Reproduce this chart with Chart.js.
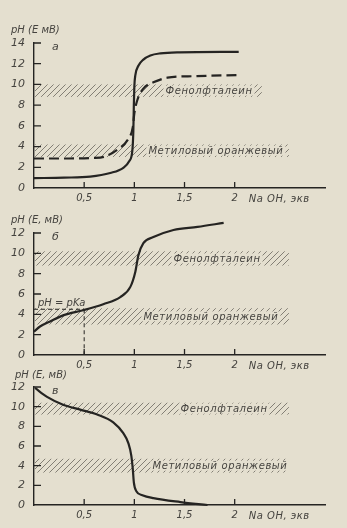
<!DOCTYPE html>
<html>
<head>
<meta charset="utf-8">
<script src="https://cdn.jsdelivr.net/npm/chart.js@4.4.0/dist/chart.umd.min.js"></script>
<style>
  html, body { margin: 0; padding: 0; background: #e4dfcf; }
  body { width: 347px; height: 528px; position: relative; overflow: hidden; }
  canvas { position: absolute; left: 0; }
</style>
</head>
<body>
<canvas id="chartA" width="347" height="215" style="top:0px"></canvas>
<canvas id="chartB" width="347" height="175" style="top:200px"></canvas>
<canvas id="chartC" width="347" height="168" style="top:360px"></canvas>
<script>
// ось X (экв NaOH)
const xTicks = [0.5, 1, 1.5, 2];
const xTickLabels = ["0,5", "1", "1,5", "2"];
const yTicksA = [0, 2, 4, 6, 8, 10, 12, 14];
const yTicksBC = [0, 2, 4, 6, 8, 10, 12];

// а: сильная кислота (сплошная) и пунктир
const aSolidX = [0, 0.3, 0.56, 0.76, 0.89, 0.95, 0.98, 0.99, 0.995, 1.0, 1.01, 1.04, 1.09, 1.16, 1.26, 1.45, 2.04];
const aSolidY = [0.95, 1.0, 1.1, 1.45, 1.95, 2.6, 3.6, 5.5, 8.0, 9.8, 10.9, 11.8, 12.4, 12.8, 13.0, 13.1, 13.15];
const aDashX = [0, 0.3, 0.6, 0.71, 0.83, 0.93, 0.985, 1.0, 1.03, 1.09, 1.19, 1.33, 1.6, 2.03];
const aDashY = [2.85, 2.85, 2.9, 3.05, 3.7, 4.6, 5.9, 7.2, 8.5, 9.6, 10.2, 10.65, 10.8, 10.9];

// б: слабая кислота
const bX = [0, 0.06, 0.16, 0.29, 0.49, 0.69, 0.86, 0.96, 1.01, 1.04, 1.09, 1.19, 1.39, 1.63, 1.89];
const bY = [2.3, 2.8, 3.3, 3.9, 4.4, 5.0, 5.7, 6.7, 8.2, 9.8, 11.0, 11.6, 12.3, 12.6, 13.0];
const pKaX = 0.5;
const pKaY = 4.5;

// в
const cX = [0.01, 0.13, 0.29, 0.46, 0.63, 0.79, 0.89, 0.94, 0.97, 0.985, 0.995, 1.02, 1.08, 1.19, 1.46, 1.73];
const cY = [11.9, 11.0, 10.2, 9.7, 9.2, 8.4, 7.3, 6.3, 5.0, 3.6, 2.3, 1.4, 1.0, 0.7, 0.3, 0.0];

// зоны перехода индикаторов [от, до]
const phenolA = [8.8, 10.0], methylA = [3.0, 4.2];
const phenolB = [8.8, 10.2], methylB = [3.0, 4.6];
const phenolC = [9.2, 10.4], methylC = [3.3, 4.7];
const phenolName = "Фенолфталеин";
const methylName = "Метиловый оранжевый";

const ink = "#252422";
const textCol = "#45433f";
const bg = "#e4dfcf";
const font = "italic 10px 'DejaVu Sans', sans-serif";

function hatch() {
  const c = document.createElement("canvas");
  c.width = 6; c.height = 6;
  const g = c.getContext("2d");
  g.strokeStyle = "rgba(90,86,78,0.7)";
  g.lineWidth = 1;
  g.beginPath();
  g.moveTo(-1, 7); g.lineTo(7, -1);
  g.moveTo(-1, 1); g.lineTo(1, -1);
  g.moveTo(5, 7); g.lineTo(7, 5);
  g.stroke();
  return c;
}
const hatchCanvas = hatch();

function pts(xs, ys) {
  return xs.map((x, i) => ({ x: x, y: ys[i] }));
}

function makeChart(id, opt) {
  const deco = {
    id: "deco",
    beforeDatasetsDraw(chart) {
      const ctx = chart.ctx;
      const xs = chart.scales.x, ys = chart.scales.y;
      const pat = ctx.createPattern(hatchCanvas, "repeat");
      opt.bands.forEach((b) => {
        const x0 = xs.getPixelForValue(0);
        const x1 = xs.getPixelForValue(b.end);
        const y0 = ys.getPixelForValue(b.range[1]);
        const y1 = ys.getPixelForValue(b.range[0]);
        ctx.save();
        ctx.fillStyle = pat;
        ctx.fillRect(x0 + 1, y0, x1 - x0, y1 - y0);
        ctx.font = font;
        ctx.letterSpacing = "0.6px";
        const tx = xs.getPixelForValue(b.textAt);
        const ty = (y0 + y1) / 2;
        const w = ctx.measureText(b.name).width;
        ctx.fillStyle = bg;
        ctx.fillRect(tx - 2, ty - 5, w + 4, 10);
        ctx.fillStyle = textCol;
        ctx.textBaseline = "middle";
        ctx.fillText(b.name, tx, ty + 1);
        ctx.restore();
      });
      // pH = pKa
      if (opt.pKa) {
        const px = xs.getPixelForValue(pKaX);
        const py = ys.getPixelForValue(pKaY);
        ctx.save();
        ctx.strokeStyle = ink;
        ctx.lineWidth = 1;
        ctx.setLineDash([4, 3]);
        ctx.beginPath();
        ctx.moveTo(xs.left, py); ctx.lineTo(px, py);
        ctx.moveTo(px, py); ctx.lineTo(px, ys.bottom);
        ctx.stroke();
        ctx.setLineDash([]);
        ctx.font = font;
        ctx.fillStyle = bg;
        ctx.fillRect(xs.left + 2, py - 13, 46, 11);
        ctx.fillStyle = textCol;
        ctx.textBaseline = "alphabetic";
        ctx.fillText("pH = pKa", xs.left + 4, py - 3);
        ctx.restore();
      }
    },
    afterDraw(chart) {
      const ctx = chart.ctx;
      const xs = chart.scales.x, ys = chart.scales.y;
      ctx.save();
      ctx.strokeStyle = ink;
      ctx.lineWidth = 1.3;
      ctx.beginPath();
      opt.yTicks.forEach((v) => {
        if (v === 0) return;
        const y = ys.getPixelForValue(v);
        ctx.moveTo(xs.left, y); ctx.lineTo(xs.left + 7, y);
      });
      xTicks.forEach((v) => {
        const x = xs.getPixelForValue(v);
        ctx.moveTo(x, ys.bottom); ctx.lineTo(x, ys.bottom - 6);
      });
      ctx.stroke();
      ctx.font = font;
      ctx.fillStyle = textCol;
      ctx.textBaseline = "middle";
      ctx.fillText(opt.title, opt.titleX, ys.top - opt.titleDy);
      ctx.font = "italic 11px 'DejaVu Sans', sans-serif";
      ctx.fillText(opt.letter, xs.left + 18, ys.top + 4);
      ctx.font = font;
      ctx.letterSpacing = "0.5px";
      ctx.fillText("Na OH, экв", xs.getPixelForValue(2.14), ys.bottom + 11);
      ctx.restore();
    }
  };

  return new Chart(document.getElementById(id), {
    type: "line",
    data: { datasets: opt.datasets },
    options: {
      responsive: false,
      animation: false,
      events: [],
      layout: { padding: { top: opt.top, right: 22, left: 0, bottom: 0 } },
      plugins: { legend: { display: false }, tooltip: { enabled: false } },
      elements: { point: { radius: 0 } },
      scales: {
        x: {
          type: "linear",
          min: 0,
          max: 2.9,
          afterBuildTicks: (s) => { s.ticks = xTicks.map((v) => ({ value: v })); },
          afterFit: (s) => { s.height = opt.xHeight; },
          grid: { drawOnChartArea: false, drawTicks: false },
          border: { color: ink, width: 1.4 },
          ticks: {
            padding: 4,
            color: textCol,
            font: { family: "'DejaVu Sans', sans-serif", style: "italic", size: 10 },
            callback: (v) => xTickLabels[xTicks.indexOf(v)] || ""
          }
        },
        y: {
          type: "linear",
          min: 0,
          max: opt.yMax,
          afterBuildTicks: (s) => { s.ticks = opt.yTicks.map((v) => ({ value: v })); },
          afterFit: (s) => { s.width = 34; },
          grid: { drawOnChartArea: false, drawTicks: false },
          border: { color: ink, width: 1.4 },
          ticks: {
            padding: 9,
            color: textCol,
            font: { family: "'DejaVu Sans', sans-serif", style: "italic", size: 11 }
          }
        }
      }
    },
    plugins: [deco]
  });
}

function curve(data, dashed) {
  return {
    data: data,
    borderColor: ink,
    borderWidth: 2.2,
    borderDash: dashed ? [10, 5] : [],
    cubicInterpolationMode: "monotone",
    fill: false,
    clip: false
  };
}

makeChart("chartA", {
  top: 43, xHeight: 27, yMax: 14, yTicks: yTicksA,
  title: "pH (E мВ)", titleX: 11, titleDy: 13, letter: "а",
  datasets: [curve(pts(aSolidX, aSolidY), false), curve(pts(aDashX, aDashY), true)],
  bands: [
    { range: phenolA, end: 2.26, textAt: 1.31, name: phenolName },
    { range: methylA, end: 2.53, textAt: 1.14, name: methylName }
  ]
});

makeChart("chartB", {
  top: 33, xHeight: 20, yMax: 12, yTicks: yTicksBC,
  title: "pH (E, мВ)", titleX: 11, titleDy: 13, letter: "б", pKa: true,
  datasets: [curve(pts(bX, bY), false)],
  bands: [
    { range: phenolB, end: 2.53, textAt: 1.39, name: phenolName },
    { range: methylB, end: 2.53, textAt: 1.09, name: methylName }
  ]
});

makeChart("chartC", {
  top: 27, xHeight: 23, yMax: 12, yTicks: yTicksBC,
  title: "pH (E, мВ)", titleX: 15, titleDy: 12, letter: "в",
  datasets: [curve(pts(cX, cY), false)],
  bands: [
    { range: phenolC, end: 2.53, textAt: 1.46, name: phenolName },
    { range: methylC, end: 2.53, textAt: 1.18, name: methylName }
  ]
});
</script>
</body>
</html>
